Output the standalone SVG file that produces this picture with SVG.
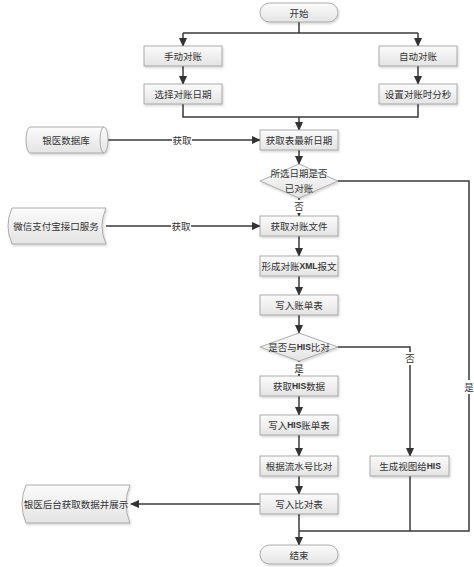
<svg xmlns="http://www.w3.org/2000/svg" width="474" height="567" viewBox="0 0 474 567">
<defs>
  <linearGradient id="g" x1="0" y1="0" x2="0" y2="1">
    <stop offset="0" stop-color="#fbfbfb"/>
    <stop offset="1" stop-color="#e4e4e4"/>
  </linearGradient>
  <filter id="sh" x="-10%" y="-20%" width="130%" height="160%">
    <feDropShadow dx="1" dy="1.5" stdDeviation="0.8" flood-color="#000" flood-opacity="0.18"/>
  </filter>
  <marker id="ar" markerWidth="9" markerHeight="8" refX="8" refY="4" orient="auto" markerUnits="userSpaceOnUse">
    <path d="M0,0 L9,4 L0,8 z" fill="#333"/>
  </marker>
  <style>
    .box{fill:url(#g);stroke:#9a9a9a;stroke-width:0.8;filter:url(#sh)}
    .t{font-family:"Noto Sans CJK SC","Noto Sans",sans-serif;font-size:9.5px;fill:#333;text-anchor:middle;dominant-baseline:central}
    .en{font-family:"Liberation Sans",Arial,sans-serif;font-weight:bold;font-size:8.5px}
    .ln{fill:none;stroke:#3a3a3a;stroke-width:1.5}
    .lb{fill:#fff}
  </style>
</defs>

<g id="connectors">
  <path class="ln" d="M299,22 V33"/>
  <path class="ln" d="M183,33 H418"/>
  <path class="ln" d="M183,33 V46" marker-end="url(#ar)"/>
  <path class="ln" d="M418,33 V46" marker-end="url(#ar)"/>
  <path class="ln" d="M183,66 V84" marker-end="url(#ar)"/>
  <path class="ln" d="M418,66 V84" marker-end="url(#ar)"/>
  <path class="ln" d="M183,104 V117 H418 V104"/>
  <path class="ln" d="M299,117 V130" marker-end="url(#ar)"/>
  <path class="ln" d="M108,140 H260" marker-end="url(#ar)"/>
  <path class="ln" d="M299,150 V164" marker-end="url(#ar)"/>
  <path class="ln" d="M299,198 V216" marker-end="url(#ar)"/>
  <path class="ln" d="M338,181 H469 V531 H299"/>
  <path class="ln" d="M106,226 H260" marker-end="url(#ar)"/>
  <path class="ln" d="M299,236 V256" marker-end="url(#ar)"/>
  <path class="ln" d="M299,276 V295" marker-end="url(#ar)"/>
  <path class="ln" d="M299,315 V333" marker-end="url(#ar)"/>
  <path class="ln" d="M299,361 V376" marker-end="url(#ar)"/>
  <path class="ln" d="M338,347 H410 V456" marker-end="url(#ar)"/>
  <path class="ln" d="M299,396 V415" marker-end="url(#ar)"/>
  <path class="ln" d="M299,435 V456" marker-end="url(#ar)"/>
  <path class="ln" d="M299,476 V494" marker-end="url(#ar)"/>
  <path class="ln" d="M260,504 H131" marker-end="url(#ar)"/>
  <path class="ln" d="M299,514 V545" marker-end="url(#ar)"/>
  <path class="ln" d="M410,476 V531"/>
  <rect class="lb" x="172" y="133" width="20" height="14"/>
  <text class="t" x="182" y="140">获取</text>
  <rect class="lb" x="171" y="219" width="20" height="14"/>
  <text class="t" x="181" y="226">获取</text>
  <rect class="lb" x="293" y="200" width="12" height="13"/>
  <text class="t" x="299" y="206">否</text>
  <rect class="lb" x="293" y="362" width="12" height="12"/>
  <text class="t" x="299" y="368">是</text>
  <rect class="lb" x="404" y="352" width="12" height="13"/>
  <text class="t" x="410" y="358">否</text>
  <rect class="lb" x="463" y="380" width="12" height="14"/>
  <text class="t" x="469" y="387">是</text>
</g>

<g id="start"><rect class="box" x="260" y="3" width="78" height="19" rx="9.5"/><text class="t" x="299" y="12.5">开始</text></g>
<g id="manual"><rect class="box" x="144" y="46" width="78" height="20"/><text class="t" x="183" y="56">手动对账</text></g>
<g id="selectDate"><rect class="box" x="144" y="84" width="78" height="20"/><text class="t" x="183" y="94">选择对账日期</text></g>
<g id="auto"><rect class="box" x="379" y="46" width="78" height="20"/><text class="t" x="418" y="56">自动对账</text></g>
<g id="setTime"><rect class="box" x="379" y="84" width="78" height="20"/><text class="t" x="418" y="94">设置对账时分秒</text></g>

<g id="bankDb">
  <path class="box" d="M30,127 H104 A4,13 0 0 1 104,153 H30 A4,13 0 0 1 30,127 Z"/>
  <path d="M104,127 A4,13 0 0 0 104,153" fill="none" stroke="#9a9a9a" stroke-width="0.8"/>
  <text class="t" x="66" y="140">银医数据库</text>
</g>
<g id="getLatest"><rect class="box" x="260" y="130" width="78" height="20"/><text class="t" x="299" y="140">获取表最新日期</text></g>

<g id="decision1">
  <path class="box" d="M299,164 L338,181 L299,198 L260,181 Z"/>
  <text class="t" x="299" y="173">所选日期是否</text>
  <text class="t" x="299" y="188">已对账</text>
</g>

<g id="payService">
  <path class="box" d="M12,208 H106 Q98,226 106,244 H12 Q4,226 12,208 Z"/>
  <text class="t" x="56" y="226">微信支付宝接口服务</text>
</g>
<g id="getFile"><rect class="box" x="260" y="216" width="78" height="20"/><text class="t" x="299" y="226">获取对账文件</text></g>
<g id="formXml"><rect class="box" x="260" y="256" width="78" height="20"/><text class="t" x="299" y="266">形成对账<tspan class="en">XML</tspan>报文</text></g>
<g id="writeBill"><rect class="box" x="260" y="295" width="78" height="20"/><text class="t" x="299" y="305">写入账单表</text></g>

<g id="decision2">
  <path class="box" d="M299,333 L338,347 L299,361 L260,347 Z"/>
  <text class="t" x="299" y="347">是否与<tspan class="en">HIS</tspan>比对</text>
</g>

<g id="getHis"><rect class="box" x="260" y="376" width="78" height="20"/><text class="t" x="299" y="386">获取<tspan class="en">HIS</tspan>数据</text></g>
<g id="writeHis"><rect class="box" x="260" y="415" width="78" height="20"/><text class="t" x="299" y="425">写入<tspan class="en">HIS</tspan>账单表</text></g>
<g id="compare"><rect class="box" x="260" y="456" width="78" height="20"/><text class="t" x="299" y="466">根据流水号比对</text></g>
<g id="genView"><rect class="box" x="370" y="456" width="79" height="20"/><text class="t" x="410" y="466">生成视图给<tspan class="en">HIS</tspan></text></g>
<g id="writeCompare"><rect class="box" x="260" y="494" width="78" height="20"/><text class="t" x="299" y="504">写入比对表</text></g>

<g id="display">
  <path class="box" d="M26,485 H130 Q122,504 130,523 H26 Q18,504 26,485 Z"/>
  <text class="t" x="76" y="504">银医后台获取数据并展示</text>
</g>

<g id="end"><rect class="box" x="260" y="545" width="78" height="19" rx="9.5"/><text class="t" x="299" y="554.5">结束</text></g>
</svg>
